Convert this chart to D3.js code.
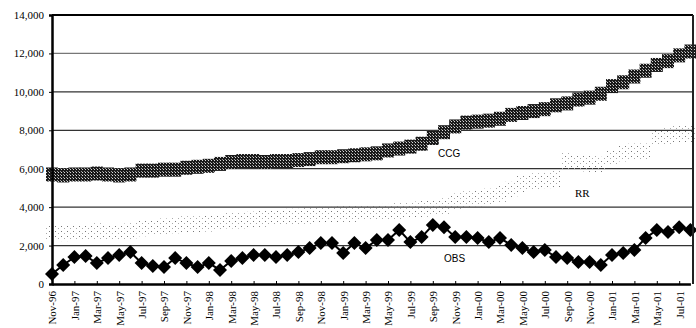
<!DOCTYPE html>
<html>
<head>
<meta charset="utf-8">
<script src="https://cdn.jsdelivr.net/npm/d3@7"></script>
<style>
  body { margin: 0; background: #fff; }
  svg { display: block; }
  .tick-label { font-family: "Liberation Serif", "Times New Roman", serif; font-size: 11px; fill: #000; }
</style>
</head>
<body>
<div id="chart"></div>
<script>
// monthly categories, Nov-96 .. Aug-01
const months = [
  'Nov-96','Dec-96','Jan-97','Feb-97','Mar-97','Apr-97','May-97','Jun-97','Jul-97','Aug-97','Sep-97','Oct-97',
  'Nov-97','Dec-97','Jan-98','Feb-98','Mar-98','Apr-98','May-98','Jun-98','Jul-98','Aug-98','Sep-98','Oct-98',
  'Nov-98','Dec-98','Jan-99','Feb-99','Mar-99','Apr-99','May-99','Jun-99','Jul-99','Aug-99','Sep-99','Oct-99',
  'Nov-99','Dec-99','Jan-00','Feb-00','Mar-00','Apr-00','May-00','Jun-00','Jul-00','Aug-00','Sep-00','Oct-00',
  'Nov-00','Dec-00','Jan-01','Feb-01','Mar-01','Apr-01','May-01','Jun-01','Jul-01','Aug-01'
];

const ccg = [
  5700, 5650, 5700, 5700, 5750, 5700, 5650, 5700, 5900, 5900, 5950, 5950,
  6050, 6100, 6150, 6250, 6350, 6400, 6400, 6350, 6400, 6400, 6450, 6500,
  6600, 6600, 6650, 6700, 6750, 6800, 6950, 7050, 7150, 7300, 7600, 7900,
  8200, 8400, 8450, 8500, 8600, 8800, 8900, 9000, 9100, 9300, 9400, 9600,
  9700, 9900, 10300, 10500, 10800, 11100, 11400, 11600, 11900, 12100
];

const rr = [
  2700, 2650, 2700, 2700, 2750, 2700, 2700, 2750, 2900, 2950, 3000, 3050,
  3100, 3100, 3150, 3200, 3300, 3300, 3350, 3400, 3450, 3500, 3500, 3550,
  3600, 3600, 3650, 3650, 3700, 3700, 3750, 3800, 3850, 3900, 4000, 4050,
  4300, 4400, 4450, 4550, 4700, 4900, 5200, 5350, 5400, 5450, 6400, 6300,
  6250, 6200, 6600, 6800, 6900, 6900, 7600, 7700, 7800, 7800
];

const obs = [
  520, 990, 1400, 1460, 1090, 1350, 1510, 1660, 1090, 940, 880, 1350,
  1090, 880, 1090, 730, 1200, 1350, 1510, 1510, 1400, 1510, 1660, 1870,
  2130, 2130, 1610, 2130, 1870, 2290, 2290, 2810, 2180, 2440, 3070, 2960,
  2440, 2440, 2390, 2180, 2390, 2030, 1870, 1660, 1770, 1400, 1350, 1140,
  1140, 990, 1510, 1610, 1770, 2390, 2810, 2700, 2960, 2810
];

const yTicks = [0, 2000, 4000, 6000, 8000, 10000, 12000, 14000];
// every other month gets a label
const xLabels = months.filter((m, i) => i % 2 === 0);

const seriesLabels = [
  {name: 'CCG', x: 438, y: 157, serif: false},
  {name: 'RR', x: 575, y: 197, serif: true},
  {name: 'OBS', x: 444, y: 262, serif: false}
];

const width = 696, height = 328;
const plot = {left: 52, right: 693, top: 15, bottom: 284};

const svg = d3.select('#chart').append('svg')
  .attr('width', width)
  .attr('height', height);

// patterns for the scanned-looking markers
const defs = svg.append('defs');
const pCcg = defs.append('pattern')
  .attr('id', 'ccgFill')
  .attr('patternUnits', 'userSpaceOnUse')
  .attr('width', 3).attr('height', 3);
pCcg.append('rect').attr('width', 3).attr('height', 3).attr('fill', '#1a1a1a');
pCcg.append('rect').attr('x', 1).attr('y', 1).attr('width', 1).attr('height', 1).attr('fill', '#d8d8d8');
pCcg.append('rect').attr('x', 0).attr('y', 0).attr('width', 1).attr('height', 1).attr('fill', '#999');

const pRr = defs.append('pattern')
  .attr('id', 'rrFill')
  .attr('patternUnits', 'userSpaceOnUse')
  .attr('width', 6).attr('height', 5);
pRr.append('rect').attr('x', 1).attr('y', 1).attr('width', 1).attr('height', 1).attr('fill', '#777');
pRr.append('rect').attr('x', 4).attr('y', 3).attr('width', 1).attr('height', 1).attr('fill', '#aaa');

const x = d3.scalePoint()
  .domain(months)
  .range([plot.left, 690.4]);

const y = d3.scaleLinear()
  .domain([0, 14000])
  .range([plot.bottom, plot.top]);

// gridlines
svg.append('g')
  .selectAll('line')
  .data(yTicks.filter(d => d > 0 && d < 14000))
  .enter().append('line')
  .attr('x1', plot.left).attr('x2', plot.right)
  .attr('y1', d => y(d)).attr('y2', d => y(d))
  .attr('stroke', (d, i) => i === 5 ? '#777' : '#333')
  .attr('stroke-width', 1.2);

// RR markers (light dotted)
svg.append('g')
  .selectAll('rect')
  .data(rr)
  .enter().append('rect')
  .attr('x', (d, i) => x(months[i]) - 6)
  .attr('y', d => y(d) - 8)
  .attr('width', 12)
  .attr('height', 16)
  .attr('fill', 'url(#rrFill)');

// CCG markers (dark hatched squares)
svg.append('g')
  .selectAll('rect')
  .data(ccg)
  .enter().append('rect')
  .attr('x', (d, i) => x(months[i]) - 6)
  .attr('y', d => y(d) - 7)
  .attr('width', 12)
  .attr('height', 14)
  .attr('fill', 'url(#ccgFill)');

// OBS line and diamonds
const line = d3.line()
  .x((d, i) => x(months[i]))
  .y(d => y(d));

svg.append('path')
  .datum(obs)
  .attr('d', line)
  .attr('fill', 'none')
  .attr('stroke', '#000')
  .attr('stroke-width', 2);

svg.append('g')
  .selectAll('path')
  .data(obs)
  .enter().append('path')
  .attr('transform', (d, i) => 'translate(' + x(months[i]) + ',' + y(d) + ')')
  .attr('d', 'M0,-7L7,0L0,7L-7,0Z')
  .attr('fill', '#000');

// frame: top and right borders
svg.append('line')
  .attr('x1', plot.left).attr('x2', plot.right)
  .attr('y1', plot.top).attr('y2', plot.top)
  .attr('stroke', '#000').attr('stroke-width', 2);
svg.append('line')
  .attr('x1', plot.right).attr('x2', plot.right)
  .attr('y1', plot.top).attr('y2', plot.bottom)
  .attr('stroke', '#222').attr('stroke-width', 2);

// y axis
const yAxis = svg.append('g')
  .attr('transform', 'translate(' + plot.left + ',0)')
  .call(d3.axisLeft(y).tickValues(yTicks).tickSize(3).tickPadding(5).tickFormat(d3.format(',')));
yAxis.select('.domain').attr('stroke-width', 2.5);
yAxis.selectAll('text').attr('class', 'tick-label');

// x axis
const xAxis = svg.append('g')
  .attr('transform', 'translate(0,' + plot.bottom + ')')
  .call(d3.axisBottom(x).tickValues(xLabels).tickSizeInner(-3).tickSizeOuter(0).tickPadding(7));
xAxis.select('.domain').attr('stroke-width', 2.5);
xAxis.selectAll('text')
  .attr('class', 'tick-label')
  .attr('transform', 'rotate(-90)')
  .attr('text-anchor', 'end')
  .attr('x', -7)
  .attr('y', 0)
  .attr('dy', '0.35em');

// series labels
svg.append('g')
  .selectAll('text')
  .data(seriesLabels)
  .enter().append('text')
  .attr('x', d => d.x)
  .attr('y', d => d.y)
  .attr('font-family', d => d.serif ? '"Liberation Serif", serif' : '"Liberation Sans", Arial, sans-serif')
  .attr('font-size', d => d.serif ? 11 : 10)
  .attr('fill', '#000')
  .text(d => d.name);
</script>
</body>
</html>
